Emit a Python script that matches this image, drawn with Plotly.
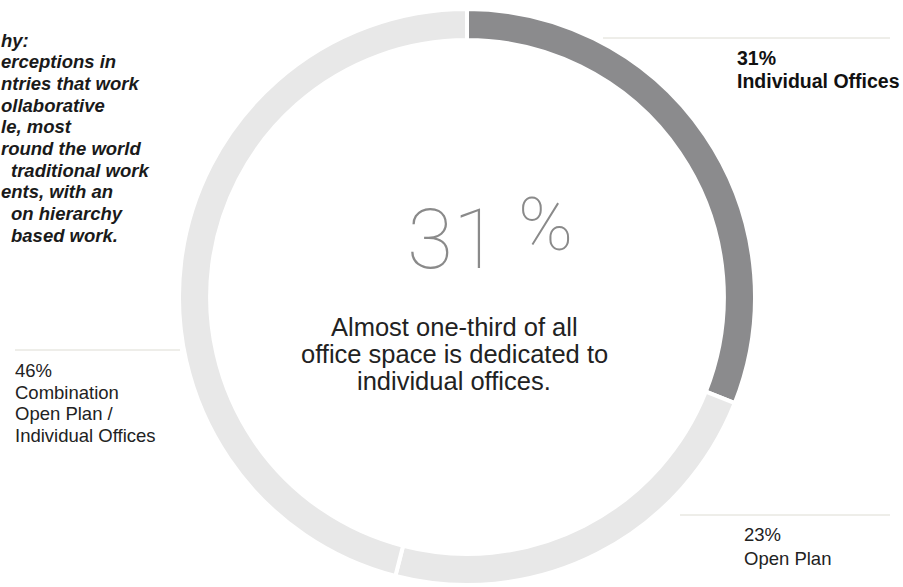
import plotly.graph_objects as go

# ---------------- data ----------------
segments = ["Individual Offices", "Open Plan", "Combination Open Plan / Individual Offices"]
shares = [31, 23, 46]
segment_label_lines = [
    ["Individual Offices"],
    ["Open Plan"],
    ["Combination", "Open Plan /", "Individual Offices"],
]
headline_value = 31
headline_text = ["Almost one-third of all", "office space is dedicated to", "individual offices."]
side_note = [
    "hy:", "erceptions in", "ntries that work", "ollaborative", "le, most",
    "round the world", " traditional work", "ents, with an", " on hierarchy", " based work.",
]

# ---------------- styling ----------------
W, H = 903, 587
seg_colors = ["#8b8b8d", "#e8e8e8", "#e8e8e8"]
rule_color = "#dddcd3"
FONT = "Liberation Sans, Arial, Helvetica, sans-serif"
THIN = "Roboto, Lato, sans-serif"


def px(x):
    return x / W


def py(y):
    return 1 - y / H


cx, cy, R = 467, 297, 288
fig = go.Figure(
    go.Pie(
        labels=segments,
        values=shares,
        sort=False,
        direction="clockwise",
        rotation=0,
        hole=0.892,
        marker=dict(colors=seg_colors, line=dict(color="white", width=4)),
        textinfo="none",
        hoverinfo="label+percent",
        showlegend=False,
        domain=dict(x=[px(cx - R), px(cx + R)], y=[py(cy + R), py(cy - R)]),
    )
)

ann = []


def add(text, x, y, size, color="#222222", xanchor="left", weight="normal", style="normal", family=FONT):
    ann.append(dict(
        text=text, x=px(x), y=py(y), xref="paper", yref="paper",
        xanchor=xanchor, yanchor="middle", showarrow=False, borderpad=0,
        font=dict(family=family, size=size, color=color, weight=weight, style=style),
    ))


# side note (clipped at the left edge)
for i, line in enumerate(side_note):
    x0 = 10 if line.startswith(" ") else 0
    add(line.strip(), x0, 40 + i * 21.7, 18.5, color="#1a1a1a", weight="bold", style="italic")

# centre headline
add(str(headline_value), 453, 239, 84, color="#8a8a8a", xanchor="center", weight=100, family=THIN)
add("%", 545, 224, 74, color="#8a8a8a", xanchor="center", weight=100, family=THIN)
for i, line in enumerate(headline_text):
    add(line, 454, 327 + i * 27, 25.5, color="#222222", xanchor="center")

# segment labels
# Individual offices (top right, bold)
add(f"{shares[0]}%", 736, 58, 19.5, color="#111111", weight="bold")
for i, line in enumerate(segment_label_lines[0]):
    add(line, 736, 81 + i * 23, 19.5, color="#111111", weight="bold")
# Open plan (bottom right)
add(f"{shares[1]}%", 743, 534, 18.5)
for i, line in enumerate(segment_label_lines[1]):
    add(line, 743, 558 + i * 22, 18.5)
# Combination (left)
add(f"{shares[2]}%", 14, 370, 18.5)
for i, line in enumerate(segment_label_lines[2]):
    add(line, 14, 392 + i * 21.7, 18.5)

shapes = [
    dict(type="line", xref="paper", yref="paper", x0=px(603), x1=px(890), y0=py(38), y1=py(38),
         line=dict(color=rule_color, width=1)),
    dict(type="line", xref="paper", yref="paper", x0=px(680), x1=px(890), y0=py(515), y1=py(515),
         line=dict(color=rule_color, width=1)),
    dict(type="line", xref="paper", yref="paper", x0=px(15), x1=px(180), y0=py(350), y1=py(350),
         line=dict(color=rule_color, width=1)),
]

fig.update_layout(
    width=W, height=H,
    margin=dict(l=0, r=0, t=0, b=0),
    paper_bgcolor="white", plot_bgcolor="white",
    annotations=ann, shapes=shapes,
    font=dict(family=FONT),
)

fig.write_html(
    "out.html",
    config={"displayModeBar": False},
    post_script="document.body.style.margin='0';document.body.style.overflow='hidden';",
)
